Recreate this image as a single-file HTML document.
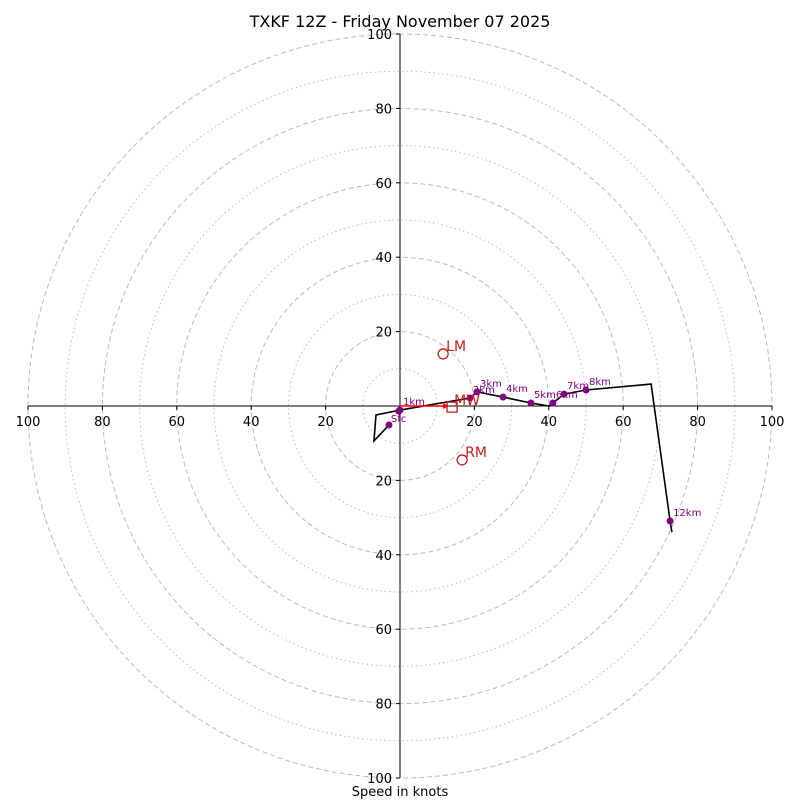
<!DOCTYPE html>
<html><head><meta charset="utf-8"><style>
body{margin:0;background:#fff}
svg{display:block;font-family:"DejaVu Sans","Liberation Sans",sans-serif}
</style></head><body>
<svg id="chart" width="800" height="800" viewBox="0 0 800 800">
<rect width="800" height="800" fill="#fff"/>
<text x="400" y="27" text-anchor="middle" font-size="16">TXKF 12Z - Friday November 07 2025</text>
<text x="400" y="796" text-anchor="middle" font-size="13">Speed in knots</text>
<g id="rings"></g><g id="axes"></g><g id="trace"></g><g id="motion"></g>
</svg>
<script>
const ringSpeeds=[10,20,30,40,50,60,70,80,90,100];
const tickValues=[20,40,60,80,100];
const pathU=[-2.96,-7.0,-6.45,0,18.8,20.7,27.7,35.2,40.1,41.1,44.1,50,67.5,72.6,73.1];
const pathV=[-5.1,-9.4,-2.4,-1.1,2.15,3.8,2.4,0.8,0,0.8,3.2,4.3,5.9,-30.9,-33.9];
const dotLabels=["","Sfc","1km","2km","3km","4km","5km","6km","7km","8km","12km"];
const dotU=[-2.96,-0.3,0,18.8,20.7,27.7,35.2,41.1,44.1,50,72.6];
const dotV=[-5.1,-1.4,-1.1,2.15,3.8,2.4,0.8,0.8,3.2,4.3,-30.9];
const lmUV=[11.6,14.0], rmUV=[16.7,-14.5], mwUV=[14,-0.3];
const cx=400, cy=406, sc=3.72;
const X=u=>cx+u*sc, Y=v=>cy-v*sc;
const NS="http://www.w3.org/2000/svg";
function mk(tag,attrs,parent){const e=document.createElementNS(NS,tag);for(const k in attrs)e.setAttribute(k,attrs[k]);parent.appendChild(e);return e;}
const rings=document.getElementById('rings');
ringSpeeds.forEach(s=>{
 const c=mk('circle',{cx:cx,cy:cy,r:s*sc,fill:'none',stroke:'#bbb','stroke-width':1,'stroke-dasharray':s%20===0?'5,3':'1.5,3'},rings);
 
 
});
const ax=document.getElementById('axes');
const h=mk('line',{x1:X(-100),y1:cy,x2:X(100),y2:cy,stroke:'#000','stroke-width':1},ax);


const v=mk('line',{x1:cx,y1:Y(100),x2:cx,y2:Y(-100),stroke:'#000','stroke-width':1},ax);


tickValues.forEach(t=>{
 [-1,1].forEach(sg=>{
  mk('line',{x1:X(sg*t),y1:cy,x2:X(sg*t),y2:cy+4,stroke:'#000'},ax);
  const tx=mk('text',{x:X(sg*t),y:cy+20,'text-anchor':'middle','font-size':13},ax);
  tx.textContent=t;
  
  
  mk('line',{x1:cx-4,y1:Y(sg*t),x2:cx,y2:Y(sg*t),stroke:'#000'},ax);
  const ty=mk('text',{x:cx-8,y:Y(sg*t)+5,'text-anchor':'end','font-size':13},ax);
  ty.textContent=t;
  
  
 });
});
const tr=document.getElementById('trace');
const pl=mk('polyline',{points:pathU.map((u,i)=>X(u)+','+Y(pathV[i])).join(' '),fill:'none',stroke:'#000','stroke-width':1.6},tr);


dotU.forEach((u,i)=>{
 const d=mk('circle',{cx:X(u),cy:Y(dotV[i]),r:3.5,fill:'#800080'},tr);
 
 
 if(dotLabels[i]){
  const lx=dotLabels[i]==='Sfc'?X(u)-8:X(u)+3;
  const ly=dotLabels[i]==='Sfc'?Y(dotV[i])+11:Y(dotV[i])-5;
  const t=mk('text',{x:lx,y:ly,'font-size':10,fill:'#800080'},tr);
  t.textContent=dotLabels[i];
  
  
 }
});
const mo=document.getElementById('motion');
const ar=mk('line',{x1:cx,y1:cy,x2:X(mwUV[0])-4,y2:cy,stroke:'red','stroke-width':1.5},mo);


mk('polygon',{points:`${X(mwUV[0])-3},${cy} ${X(mwUV[0])-9},${cy-3} ${X(mwUV[0])-9},${cy+3}`,fill:'red'},mo);
[['LM',lmUV],['RM',rmUV]].forEach(([n,p])=>{
 const c=mk('circle',{cx:X(p[0]),cy:Y(p[1]),r:5,fill:'none',stroke:'#c02020','stroke-width':1.3},mo);
 
 
 const t=mk('text',{x:X(p[0])+3,y:Y(p[1])-3,'font-size':14,fill:'#c02020'},mo);
 t.textContent=n;
 
 
});
const sq=mk('rect',{x:X(mwUV[0])-5,y:Y(mwUV[1])-5,width:10,height:10,fill:'none',stroke:'#c02020','stroke-width':1.3},mo);


const mt=mk('text',{x:X(mwUV[0])+2,y:Y(mwUV[1])-2,'font-size':14,fill:'#c02020'},mo);
mt.textContent='MW';


</script>
</body></html>
